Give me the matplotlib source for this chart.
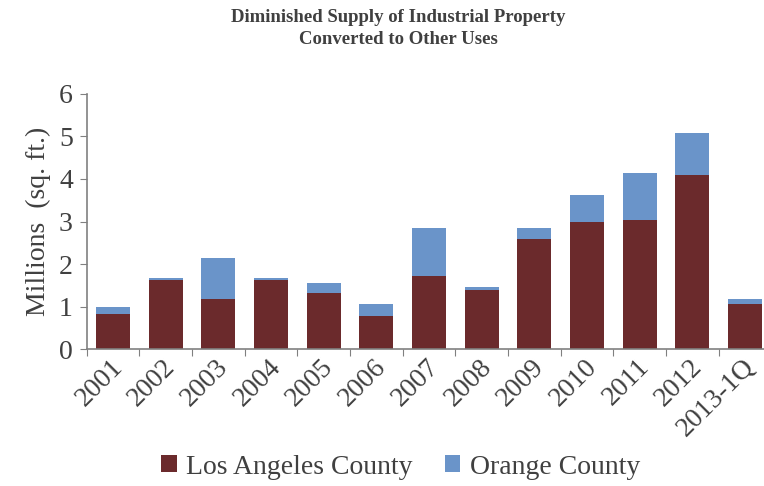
import numpy as np
import matplotlib.pyplot as plt
import matplotlib.transforms as mtransforms

plt.rcParams['font.family'] = ['Liberation Serif', 'DejaVu Serif']

years = ['2001', '2002', '2003', '2004', '2005', '2006', '2007',
         '2008', '2009', '2010', '2011', '2012', '2013-1Q']
los_angeles = [0.83, 1.63, 1.19, 1.63, 1.33, 0.79, 1.73, 1.39, 2.60, 2.98, 3.03, 4.10, 1.06]
orange = [0.17, 0.05, 0.95, 0.05, 0.22, 0.28, 1.12, 0.08, 0.25, 0.65, 1.11, 0.99, 0.11]

la_color = '#6B2A2C'
oc_color = '#6A94C9'
axis_color = '#808080'
text_color = '#404040'

fig = plt.figure(figsize=(7.64, 4.86), dpi=100)
ax = fig.add_axes([0.1135, 0.2813, 0.896, 0.5257])

x = np.arange(len(years))
w = 0.645
ax.bar(x, los_angeles, w, color=la_color, label='Los Angeles County')
ax.bar(x, orange, w, bottom=los_angeles, color=oc_color, label='Orange County')

ax.set_xlim(-0.5, len(years) - 0.5)
ax.set_ylim(0, 6)
ax.set_yticks(range(7))
ax.tick_params(axis='y', labelsize=20, colors=text_color, length=5,
               color=axis_color, pad=5)

# ticks between categories, labels at category centres
ax.set_xticks(np.arange(len(years) + 1) - 0.5)
ax.set_xticklabels([])
ax.tick_params(axis='x', which='major', direction='out', length=5, color=axis_color)
ax.set_xticks(x, minor=True)
ax.set_xticklabels(years, minor=True, rotation=45, ha='right', va='center',
                   rotation_mode='anchor', fontsize=20, color=text_color)
ax.tick_params(axis='x', which='minor', length=0, pad=10)
shift = mtransforms.ScaledTranslation(6 / 100, 0, fig.dpi_scale_trans)
for lbl in ax.get_xticklabels(minor=True):
    lbl.set_transform(lbl.get_transform() + shift)

for s in ['top', 'right']:
    ax.spines[s].set_visible(False)
for s in ['left', 'bottom']:
    ax.spines[s].set_color(axis_color)
    ax.spines[s].set_linewidth(1.2)

ax.set_ylabel('Millions  (sq. ft.)', fontsize=20, color=text_color, labelpad=6)

fig.text(0.521, 0.942, 'Diminished Supply of Industrial Property\nConverted to Other Uses',
         ha='center', va='center', fontsize=13.5, fontweight='bold',
         color=text_color, linespacing=1.4)

fig.legend(loc='center', bbox_to_anchor=(0.5245, 0.039), ncol=2, frameon=False,
           fontsize=20, handlelength=0.55, handleheight=0.55, handletextpad=0.35,
           columnspacing=1.15, labelcolor=text_color)

fig.savefig('out.png', dpi=100)
